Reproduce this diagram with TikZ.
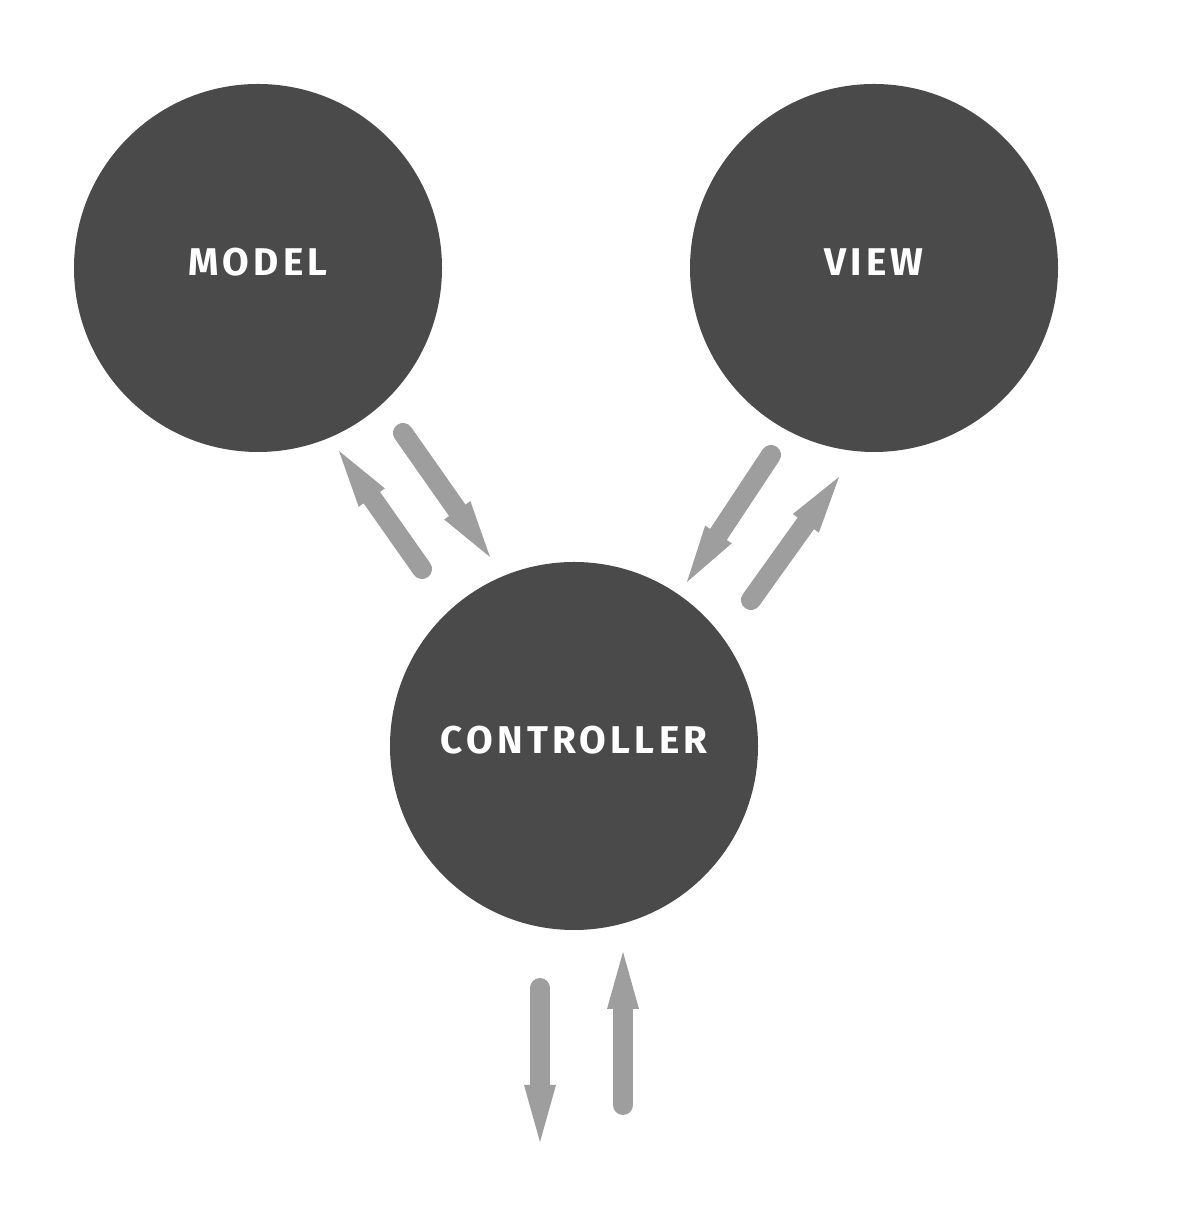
\documentclass[tikz,border=0pt]{standalone}
\usepackage{fontspec}
\newfontfamily\mvcfont{Fira Sans}[LetterSpace=11]
\usetikzlibrary{arrows.meta}

\definecolor{blobgray}{HTML}{4A4A4A}
\definecolor{flowgray}{HTML}{9E9E9E}

\begin{document}
\begin{tikzpicture}[>={Triangle[length=1.14cm,width=0.64cm,line width=0pt]},
  blob/.style={circle,fill=blobgray,minimum size=7.36cm,inner sep=0pt,
    text=white,font=\mvcfont\bfseries\fontsize{22}{26}\selectfont,text depth=0.24cm},
  flow/.style={->,flowgray,line width=0.4cm,line cap=round}]
  \useasboundingbox (0,0) rectangle (23.82,24.34);
  % los tres circulos
  \node[blob] (model) at (5.16,18.98){MODEL};
  \node[blob] (view) at (17.48,18.98){VIEW};
  \node[blob] (ctrl) at (11.48,9.42){CONTROLLER};
  % extremos de las flechas
  \coordinate (cm0) at (8.44,12.96); \coordinate (cm1) at (6.78,15.32);
  \coordinate (mc0) at (8.06,15.68); \coordinate (mc1) at (9.80,13.20);
  \coordinate (vc0) at (15.42,15.24); \coordinate (vc1) at (13.74,12.70);
  \coordinate (cv0) at (15.02,12.34); \coordinate (cv1) at (16.78,14.80);
  \coordinate (out0) at (10.80,4.58); \coordinate (out1) at (10.80,1.50);
  \coordinate (in0) at (12.46,2.24); \coordinate (in1) at (12.46,5.30);
  % flechas
  \foreach \a in {cm,mc,vc,cv,out,in} \draw[flow] (\a0)--(\a1);
\end{tikzpicture}
\end{document}
